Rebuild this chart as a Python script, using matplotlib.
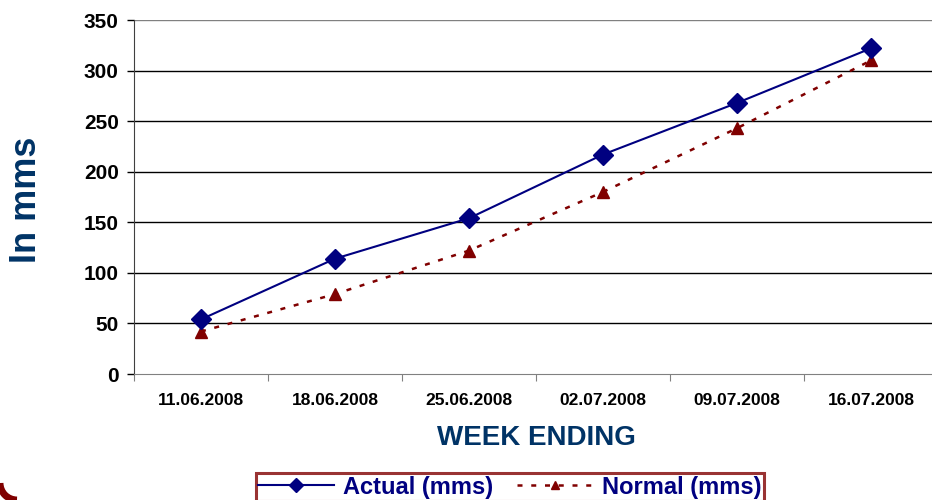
import matplotlib
matplotlib.use("Agg")
from matplotlib import pyplot as plt
from matplotlib.patches import Arc

# week ending dates and cumulative rainfall (mm)
weeks = ["11.06.2008", "18.06.2008", "25.06.2008", "02.07.2008", "09.07.2008", "16.07.2008"]
actual = [54, 114, 154, 217, 268, 322]
normal = [42, 79, 122, 180, 243, 310]

plt.rcParams["font.family"] = ["Liberation Sans", "DejaVu Sans"]

fig = plt.figure(figsize=[9.32, 5], dpi=100)
W, H = 932, 500
ax = fig.add_axes([134 / W, 126 / H, (938 - 134) / W, 354 / H])

x = list(range(len(weeks)))
ax.plot(x, actual, color="#000080", lw=1.5, marker="D", markersize=10,
        markeredgecolor="#000080", label="Actual (mms)", zorder=4)
ax.plot(x, normal, color="#800000", lw=1.8, ls=(0, (2, 3.5)), marker="^", markersize=9,
        markeredgecolor="#800000", label="Normal (mms)", zorder=3)

ax.set_xlim(-0.5, len(weeks) - 0.5)
ax.set_ylim(0, 350)
ax.set_yticks(range(0, 351, 50))
for v in range(50, 351, 50):
    ax.axhline(v, color="#808080" if v == 350 else "black", lw=1, zorder=1)

# category ticks sit between the categories, labels under each one
ax.set_xticks([i - 0.5 for i in range(len(weeks) + 1)])
ax.set_xticklabels([])
ax.set_xticks(x, minor=True)
ax.set_xticklabels(weeks, minor=True, fontsize=12.5, fontweight="bold")
ax.tick_params(axis="x", which="minor", length=0, pad=14)
ax.tick_params(axis="x", which="major", length=5, color="#808080")
ax.tick_params(axis="y", length=5, width=1, labelsize=15, pad=6)
for t in ax.get_yticklabels():
    t.set_fontweight("bold")

for s in ["top", "right"]:
    ax.spines[s].set_visible(False)
ax.spines["left"].set_color("#404040")
ax.spines["bottom"].set_color("#808080")

ax.set_xlabel("WEEK ENDING", fontsize=20, fontweight="bold", color="#003366", labelpad=12)
fig.text(27 / W, 1 - 200 / H, "In mms", rotation=90, ha="center", va="center",
         fontsize=26, fontweight="bold", color="#003366")

leg = fig.legend(loc="upper center", bbox_to_anchor=(510 / W, 1 - 461 / H), ncol=2,
                 frameon=True, fancybox=False, handlelength=3.2, markerscale=0.7,
                 columnspacing=1.0, handletextpad=0.4, borderpad=0.12,
                 prop={"weight": "bold", "size": 17})
leg.get_frame().set_edgecolor("#800000")
leg.get_frame().set_linewidth(2.2)
for t in leg.get_texts():
    t.set_color("#000080")

# corner of the rounded outer frame
fig.add_artist(Arc((17 / W, 1 - 483 / H), 34 / W, 34 / H, theta1=180, theta2=270,
                   transform=fig.transFigure, color="#800000", lw=5))

fig.savefig("out.png", dpi=100)
